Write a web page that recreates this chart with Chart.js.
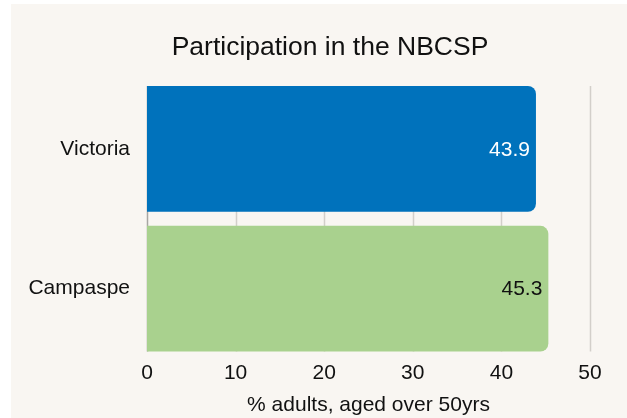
<!DOCTYPE html>
<html>
<head>
<meta charset="utf-8">
<script src="https://cdn.jsdelivr.net/npm/chart.js@4"></script>
<style>
  html, body { margin: 0; padding: 0; background: #ffffff; }
  #wrap { position: absolute; left: 11px; top: 4px; width: 616px; height: 414px; background: #f9f6f2; }
</style>
</head>
<body>
<div id="wrap"><canvas id="grafico" width="616" height="414"></canvas></div>
<script>
// dados
const regioes = ['Victoria', 'Campaspe'];
const participacao = [43.9, 45.3];
const coresBarras = ['#0072bc', '#a9d18e'];
const coresRotulos = ['#ffffff', '#111111'];
const ticksX = [0, 10, 20, 30, 40, 50];
const titulo = 'Participation in the NBCSP';

const fonte = 'Liberation Sans, Arial, sans-serif';

// titulo (um pouco deslocado do centro, como no original)
const tituloPlugin = {
    id: 'tituloCustom',
    afterDraw(chart) {
        const ctx = chart.ctx;
        ctx.save();
        ctx.font = '26.5px ' + fonte;
        ctx.fillStyle = '#111';
        ctx.textAlign = 'center';
        ctx.textBaseline = 'middle';
        ctx.fillText(titulo, chart.width / 2 + 11, 44);
        ctx.restore();
    }
};

// grade vertical so na altura das barras
const gradePlugin = {
    id: 'grade',
    beforeDatasetsDraw(chart) {
        const meta = chart.getDatasetMeta(0);
        let topo = Infinity, base = -Infinity;
        meta.data.forEach(b => {
            topo = Math.min(topo, b.y - b.height / 2);
            base = Math.max(base, b.y + b.height / 2);
        });
        const ctx = chart.ctx;
        const x = chart.scales.x;
        ctx.save();
        ctx.lineWidth = 1.5;
        ticksX.forEach(v => {
            const px = Math.round(x.getPixelForValue(v)) + 0.5;
            ctx.strokeStyle = v === 0 ? '#a8a6a3' : '#d3cfca';
            ctx.beginPath();
            ctx.moveTo(px, topo);
            ctx.lineTo(px, base);
            ctx.stroke();
        });
        ctx.restore();
    }
};

// valores dentro das barras
const rotulosPlugin = {
    id: 'rotulos',
    afterDatasetsDraw(chart) {
        const ctx = chart.ctx;
        const meta = chart.getDatasetMeta(0);
        ctx.save();
        ctx.font = '21px ' + fonte;
        ctx.textAlign = 'right';
        ctx.textBaseline = 'middle';
        meta.data.forEach((b, i) => {
            ctx.fillStyle = coresRotulos[i];
            ctx.fillText(participacao[i].toFixed(1), b.x - 6, b.y + 1);
        });
        ctx.restore();
    }
};

function plotarGrafico() {
    const ctx = document.getElementById('grafico').getContext('2d');
    new Chart(ctx, {
        type: 'bar',
        data: {
            labels: regioes,
            datasets: [{
                data: participacao,
                backgroundColor: coresBarras,
                borderRadius: { topRight: 8, bottomRight: 8 },
                borderSkipped: false,
                barPercentage: 0.9,
                categoryPercentage: 1
            }]
        },
        options: {
            indexAxis: 'y',
            responsive: false,
            animation: false,
            layout: { padding: { left: 0, right: 37, top: 75, bottom: 0 } },
            scales: {
                x: {
                    min: 0,
                    max: 50,
                    afterBuildTicks: s => { s.ticks = ticksX.map(v => ({ value: v })); },
                    grid: { display: false, drawTicks: false },
                    border: { display: false },
                    ticks: { color: '#111', font: { family: fonte, size: 21 }, padding: 2 },
                    title: {
                        display: true,
                        text: '% adults, aged over 50yrs',
                        color: '#111',
                        font: { family: fonte, size: 21 },
                        padding: { top: 5, bottom: 0 }
                    }
                },
                y: {
                    grid: { display: false, drawTicks: false },
                    border: { display: false },
                    ticks: { color: '#111', font: { family: fonte, size: 21 }, padding: 17 },
                    afterFit: s => { s.width = 136; }
                }
            },
            plugins: {
                legend: { display: false },
                tooltip: { enabled: false },
                title: { display: false }
            }
        },
        plugins: [gradePlugin, rotulosPlugin, tituloPlugin]
    });
}
window.onload = function () {
    plotarGrafico();
};
</script>
</body>
</html>
